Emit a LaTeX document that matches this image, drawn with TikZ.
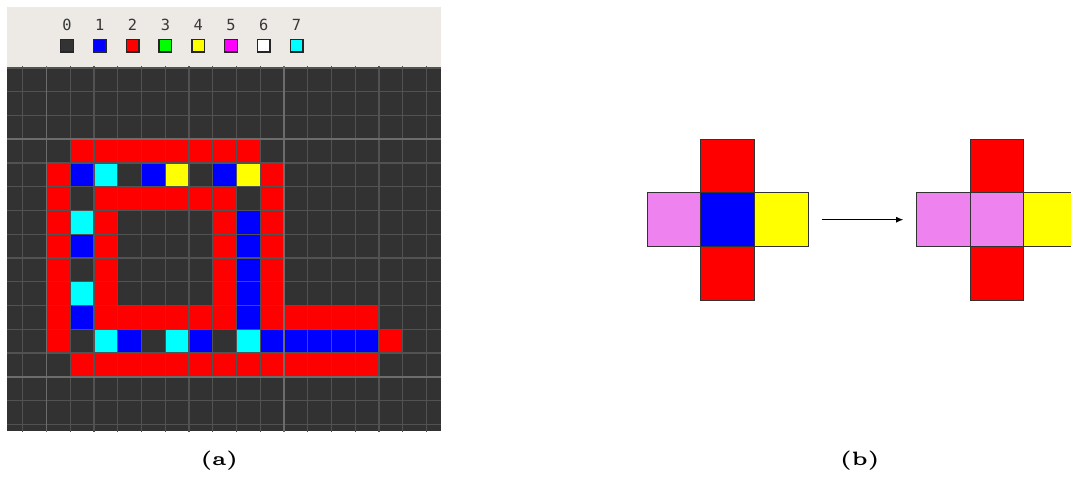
\documentclass[tikz,border=0pt]{standalone}
\usepackage{fontspec}
\newfontfamily\palettefont{DejaVu Sans Mono}
\usetikzlibrary{positioning,arrows.meta}
\definecolor{panelbg}{RGB}{237,234,229}
\definecolor{gridbg}{RGB}{50,50,50}
\definecolor{gridline}{RGB}{82,82,82}
\definecolor{gridmajor}{RGB}{108,108,108}
\definecolor{swatchzero}{RGB}{51,51,51}
\definecolor{digitgray}{RGB}{55,55,55}
\definecolor{arcblue}{RGB}{0,0,255}
\definecolor{arcred}{RGB}{255,0,0}
\definecolor{arcgreen}{RGB}{0,255,0}
\definecolor{arcyellow}{RGB}{255,255,0}
\definecolor{arcmagenta}{RGB}{255,0,255}
\definecolor{arcwhite}{RGB}{255,255,255}
\definecolor{arccyan}{RGB}{0,255,255}
\definecolor{crossviolet}{RGB}{238,130,238}
\tikzset{
  swatch/.style={draw=black!85, line width=1pt, minimum size=9.5pt, inner sep=0pt},
  digit/.style={font=\palettefont\fontsize{11.5}{12}\selectfont, text=digitgray, inner sep=0pt},
  crosscell/.style={draw=black!80, line width=0.6pt, minimum size=40.3pt, inner sep=0pt, outer sep=0pt},
  sublabel/.style={inner sep=0pt},
}

\begin{document}
\begin{tikzpicture}[x=0.75pt, y=-0.75pt]
\clip (0,0) rectangle (1071,477);
\fill[panelbg] (7,7.3) rectangle (441,68);
\fill[gridbg] (7,68) rectangle (441,431);
\begin{scope}[shift={(-1.05,67.95)}, x=17.8125pt, y=-17.8125pt]
  \clip (0.34,-0.05) rectangle (18.61,15.29);
  \foreach \clr/\r/\cols in {arcred/3/{3,...,10}, arcred/4/{2,11}, arcred/5/{2,4,5,6,7,8,9,11},
      arcred/6/{2,4,9,11}, arcred/7/{2,4,9,11}, arcred/8/{2,4,9,11}, arcred/9/{2,4,9,11},
      arcred/10/{2,4,5,6,7,8,9,11,12,13,14,15}, arcred/11/{2,16}, arcred/12/{3,...,15},
      arcblue/4/{3,6,9}, arcblue/6/{10}, arcblue/7/{3,10}, arcblue/8/{10}, arcblue/9/{10},
      arcblue/10/{3,10}, arcblue/11/{5,8,11,12,13,14,15},
      arccyan/4/{4}, arccyan/6/{3}, arccyan/9/{3}, arccyan/11/{4,7,10},
      arcyellow/4/{7,10}}
    \foreach \c in \cols
      \fill[\clr] (\c,\r) rectangle ++(1,1);
  \foreach \c in {1,...,18}
    \draw[gridline, line width=1pt] (\c,-1) -- (\c,16);
  \foreach \r in {0,...,15}
    \draw[gridline, line width=1pt] (0,\r) -- (19,\r);
  \foreach \c in {2,12}
    \draw[gridmajor, line width=1.3pt] (\c,-1) -- (\c,16);
  \foreach \r in {3,13}
    \draw[gridmajor, line width=1.3pt] (0,\r) -- (19,\r);
\end{scope}
\foreach \clr [count=\i from 0] in {swatchzero,arcblue,arcred,arcgreen,arcyellow,arcmagenta,arcwhite,arccyan} {
  \node[swatch, fill=\clr] (sw\i) at ({67+32.8*\i},45.7) {};
  \node[digit, above=6pt of sw\i] (num\i) {\i};
}
\node[crosscell, fill=arcblue] (lc) at (727.5,219.7) {};
\node[crosscell, fill=arcred, above=0pt of lc] (ltop) {};
\node[crosscell, fill=arcred, below=0pt of lc] (lbot) {};
\node[crosscell, fill=crossviolet, left=0pt of lc] (lleft) {};
\node[crosscell, fill=arcyellow, right=0pt of lc] (lright) {};
\node[crosscell, fill=crossviolet] (rc) at (997,219.7) {};
\node[crosscell, fill=arcred, above=0pt of rc] (rtop) {};
\node[crosscell, fill=arcred, below=0pt of rc] (rbot) {};
\node[crosscell, fill=crossviolet, left=0pt of rc] (rleft) {};
\node[crosscell, fill=arcyellow, right=0pt of rc] (rright) {};
\draw[-{Latex[length=5.5pt,width=4.5pt]}, line width=0.9pt, shorten <=10.3pt, shorten >=9.7pt] (lright.east) -- (rleft.west);
\node[sublabel] (capa) at (219.3,460.5) {\scalebox{2.9}{\fontsize{5}{6}\selectfont\bfseries (a)}};
\node[sublabel] (capb) at (859.7,460.5) {\scalebox{2.9}{\fontsize{5}{6}\selectfont\bfseries (b)}};
\end{tikzpicture}
\end{document}
